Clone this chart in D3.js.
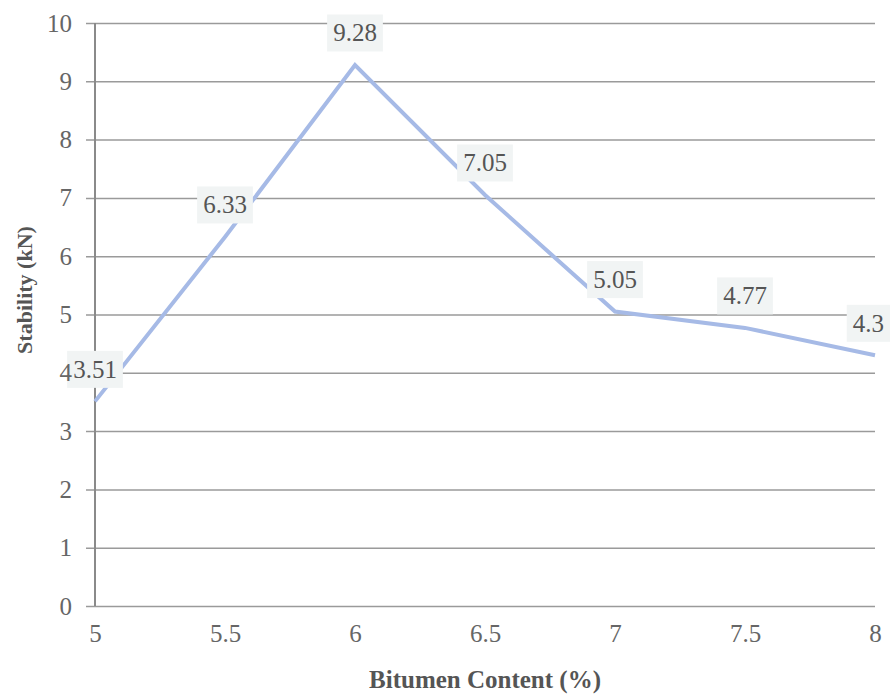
<!DOCTYPE html>
<html>
<head>
<meta charset="utf-8">
<script src="https://cdn.jsdelivr.net/npm/d3@7"></script>
<style>
  html, body { margin: 0; padding: 0; background: #fff; }
  svg { display: block; }
</style>
</head>
<body>
<svg id="chart" width="894" height="700"></svg>
<script>
// Marshall stability against bitumen content
const bitumenContent = [5, 5.5, 6, 6.5, 7, 7.5, 8];
const stability = [3.51, 6.33, 9.28, 7.05, 5.05, 4.77, 4.3];
const xTicks = [5, 5.5, 6, 6.5, 7, 7.5, 8];
const yTicks = [0, 1, 2, 3, 4, 5, 6, 7, 8, 9, 10];
const xTitle = "Bitumen Content (%)";
const yTitle = "Stability (kN)";

const svg = d3.select("#chart");
const margin = { left: 95, right: 19, top: 23, bottom: 94 };
const W = 894, H = 700;

const x = d3.scaleLinear().domain([5, 8]).range([margin.left, W - margin.right]);
const y = d3.scaleLinear().domain([0, 10]).range([H - margin.bottom, margin.top]);

const serif = "'Liberation Serif', 'Times New Roman', serif";
const plotW = x.range()[1] - x.range()[0];

// horizontal gridlines, with short ticks to the left of the axis
const grid = svg.append("g")
  .attr("transform", `translate(${margin.left - 9},0)`)
  .call(d3.axisLeft(y).tickValues(yTicks).tickSize(0).tickFormat(""));
grid.select(".domain").remove();
grid.selectAll(".tick line")
  .attr("x1", 0)
  .attr("x2", plotW + 9)
  .attr("stroke", "#9a9a9a")
  .attr("stroke-width", 1.5);

// vertical value axis line
svg.append("line")
  .attr("x1", x(5)).attr("x2", x(5))
  .attr("y1", y(10)).attr("y2", y(0))
  .attr("stroke", "#8a8a8a")
  .attr("stroke-width", 2);

// x axis labels
const gx = svg.append("g")
  .attr("transform", `translate(0,${y(0)})`)
  .call(d3.axisBottom(x).tickValues(xTicks).tickSize(0).tickPadding(18)
    .tickFormat(d => String(d)));
gx.select(".domain").remove();
gx.selectAll(".tick text")
  .attr("fill", "#666")
  .style("font-family", serif)
  .style("font-size", "25px");

// axis titles
svg.append("text")
  .attr("x", (x.range()[0] + x.range()[1]) / 2)
  .attr("y", 688)
  .attr("text-anchor", "middle")
  .attr("fill", "#555")
  .style("font-family", serif)
  .style("font-weight", "bold")
  .style("font-size", "25px")
  .text(xTitle);

svg.append("text")
  .attr("transform", "translate(24,290) rotate(-90)")
  .attr("text-anchor", "middle")
  .attr("dominant-baseline", "central")
  .attr("fill", "#555")
  .style("font-family", serif)
  .style("font-weight", "bold")
  .style("font-size", "22px")
  .text(yTitle);

// data line
const pts = bitumenContent.map((b, i) => [b, stability[i]]);
const line = d3.line().x(d => x(d[0])).y(d => y(d[1]));
svg.append("path")
  .datum(pts)
  .attr("d", line)
  .attr("fill", "none")
  .attr("stroke", "#a6bae6")
  .attr("stroke-width", 4)
  .attr("stroke-linejoin", "miter");

// value labels above each point, kept inside the plot on the right
const labels = svg.append("g");
pts.forEach(d => {
  const g = labels.append("g");
  const t = g.append("text")
    .attr("text-anchor", "middle")
    .attr("dominant-baseline", "central")
    .attr("fill", "#555")
    .style("font-family", serif)
    .style("font-size", "25px")
    .text(String(d[1]));
  const bb = t.node().getBBox();
  const padX = 6, padY = 5;
  let cx = x(d[0]);
  const cy = y(d[1]) - 32;
  const half = bb.width / 2 + padX;
  if (cx + half > W - 4) cx = W - 4 - half;
  t.attr("x", cx).attr("y", cy);
  g.insert("rect", "text")
    .attr("x", cx - half)
    .attr("y", cy - bb.height / 2 - padY)
    .attr("width", half * 2)
    .attr("height", bb.height + padY * 2)
    .attr("fill", "#f1f4f4");
});

// y tick labels, drawn last so they sit on top of the value boxes
const gy = svg.append("g")
  .attr("transform", `translate(${margin.left - 9},0)`)
  .call(d3.axisLeft(y).tickValues(yTicks).tickSize(0).tickPadding(14)
    .tickFormat(d3.format("d")));
gy.select(".domain").remove();
gy.selectAll(".tick line").remove();
gy.selectAll(".tick text")
  .attr("fill", "#666")
  .style("font-family", serif)
  .style("font-size", "25px");
</script>
</body>
</html>
